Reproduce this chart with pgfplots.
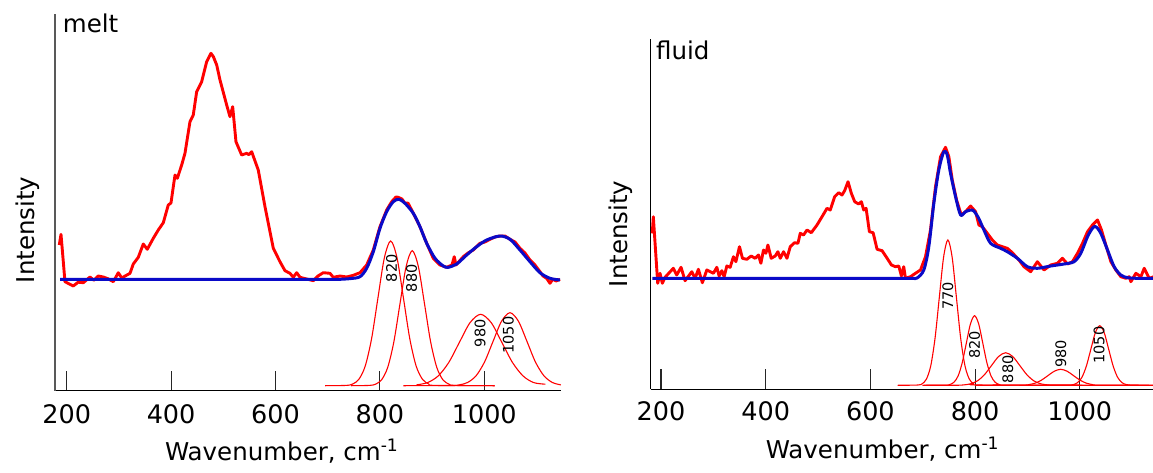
\documentclass[border=0pt]{standalone}
\usepackage{fontspec}
\setmainfont{DejaVu Sans}
\usepackage{pgfplots}
\pgfplotsset{compat=1.18}
\definecolor{fitblue}{RGB}{10,10,200}
\definecolor{specred}{RGB}{255,0,0}
\tikzset{glab/.style={rotate=90, font=\fontsize{14.5}{15}\selectfont, inner sep=0pt}}
\pgfplotsset{spec/.style={
  scale only axis, width=506pt, ymin=0, xmax=1147,
  axis x line*=bottom, axis y line*=left,
  axis line style={line width=1pt, black, -},
  xtick={200,400,600,800,1000},
  xticklabels={200,400,600,800,1000},
  ytick=\empty,
  tick align=inside, major tick length=20pt,
  tick style={black!85, line width=1.1pt},
  /pgf/number format/assume math mode=true,
  xticklabel style={font=\fontsize{25.5}{27}\selectfont, anchor=north, inner sep=0pt, yshift=-14pt},
  label style={font=\fontsize{24.5}{27}\selectfont},
  clip=false,
  ylabel={Intensity},
  xlabel={Wavenumber, cm\textsuperscript{-1}},
},
redline/.style={color=specred, line width=2.9pt, line join=round, no markers},
fitline/.style={color=fitblue, line width=3pt, line join=round, no markers, smooth},
gauss/.style={color=specred, line width=1.1pt, no markers, smooth},
}
\begin{document}
\begin{tikzpicture}
\useasboundingbox (0,0) rectangle (1153pt,472pt);
% ---------------- melt ----------------
\begin{axis}[spec, at={(55pt,81.3pt)}, anchor=south west,
  height=376.7pt, ymax=376.7, xmin=177.6,
  y axis line style={line width=2pt, black!65},
  ylabel style={at={(axis description cs:0,0.427)}, anchor=base, yshift=21pt},
  xlabel style={at={(axis description cs:0.448,0)}, anchor=base, yshift=-70pt},
]
\addplot[redline] coordinates {(185.8,145.7)(189.1,156.4)(196.7,109)(212.6,104.7)(222,108.5)(231.8,108)(244.6,113.7)(252,110.5)(260.5,114.7)(270.1,113.7)(279,112)(289.3,109)(298.9,118)(305.4,112.7)(313,115)(321.3,117.4)(327.6,126.7)(337.2,133.4)(346.7,146.7)(354.4,141.4)(365.9,152.4)(375.5,160.7)(385.1,168)(394.6,185.7)(399.8,187.7)(407.5,215.7)(411.9,212.4)(420.3,225.7)(426.6,237.4)(436.2,269)(442.5,275.7)(449,299)(458.6,309)(468.2,329)(476.4,337.4)(481,334)(487.4,325.7)(493.7,310.7)(506.5,285.7)(512.8,274)(518,284)(524.3,249)(535.2,235.7)(544.8,237.4)(549,236)(554.4,239)(567,220.7)(579.9,184)(595.8,142.4)(608.6,129)(618.2,120)(627.8,117.4)(634.1,113.4)(640.6,118)(647,113.4)(659.8,111.7)(672.4,110)(681.4,114.7)(691.6,118)(704.4,117.4)(710.7,113.4)(723.6,114.7)(736.4,113.7)(749,115.4)(761.9,118)(774.7,125.7)(787.4,140.7)(800.2,164)(813,180.7)(822.6,189)(830.8,193.7)(835.2,193.4)(842.3,191.7)(848.1,187.4)(853.8,187.7)(860.9,180.7)(876.8,164)(889.7,147.4)(902.3,132.4)(915.1,125.7)(928,123.4)(938.1,125.7)(942.5,134)(945.8,125.7)(959.8,134)(968.8,137.7)(978.9,140.7)(991.8,147.4)(1001.3,148.7)(1010.9,151.4)(1020.5,153.7)(1030.1,154.7)(1039.7,154.7)(1049.3,151.4)(1058.9,148.7)(1068.4,142.4)(1078,137.7)(1087.6,130.7)(1097.1,125.7)(1106.7,119)(1112.5,114.7)(1119.5,112.4)(1125.9,107.4)(1131.6,111.7)(1137.4,109.7)(1145,111.4)};
\addplot[fitline] coordinates {(187.2,111.4)(500,111.4)(700,111.4)(723.6,111.4)(745,112.2)(761.9,114)(774.7,122.4)(787.4,139)(800.2,162.4)(813,179)(825.7,189)(836.6,191.4)(848.1,187.4)(864,177.4)(876.8,164)(889.7,147.4)(905.6,132.4)(921.5,124.7)(931,123.4)(947.1,126.7)(966.3,135.7)(985.4,144)(1004.6,150.7)(1030.1,154.7)(1049.3,151.4)(1068.4,140.7)(1087.6,129)(1106.7,118)(1125.9,112.4)(1145,110.7)};
\addplot[gauss] coordinates {(695,5)(735.3,5.3)(747.5,6.6)(759.7,11.35)(771.9,24.6)(784.1,52)(796.3,92.8)(808.5,132.7)(820.7,149.7)(832.9,132.7)(845.1,92.8)(857.3,52)(869.5,24.6)(881.7,11.35)(893.9,6.6)(906.1,5.3)(1020,5)};
\addplot[gauss] coordinates {(745,5)(779.75,5.3)(791.5,6.5)(803.25,10.9)(815,23.3)(826.75,48.8)(838.5,86.9)(850.25,124.1)(862,140)(873.75,124.1)(885.5,86.9)(897.25,48.8)(909,23.3)(920.75,10.9)(932.5,6.5)(944.25,5.3)(1020,5)};
\addplot[gauss] coordinates {(870,5.8)(891.25,8.1)(911.6,14.7)(931.95,28.2)(952.3,48.3)(972.65,68)(993,76.4)(1013.35,68)(1033.7,48.3)(1054.05,28.2)(1074.4,14.7)(1094.75,8.1)(1117,6.5)};
\addplot[gauss] coordinates {(845,5)(935.5,5.16)(951.8,5.8)(968,8.2)(984.3,14.9)(1000.5,28.7)(1016.8,49.3)(1033,69.4)(1049.3,78)(1065.5,69.4)(1081.8,49.3)(1098,28.7)(1114.3,14.9)(1130.5,8.2)(1146.8,5.8)};
\node[glab] at (axis cs:822.6,122.4) {820};
\node[glab] at (axis cs:861,112.4) {880};
\node[glab] at (axis cs:991.8,57.4) {980};
\node[glab] at (axis cs:1046,55.7) {1050};
\node[anchor=north west, inner sep=0pt, font=\fontsize{24.5}{27}\selectfont, xshift=7.7pt] at (rel axis cs:0,1) {melt};
\end{axis}
% ---------------- fluid ----------------
\begin{axis}[spec, at={(650.7pt,82.7pt)}, anchor=south west,
  height=350pt, ymax=350, xmin=180.3,
  y axis line style={line width=1.2pt, black},
  ylabel style={at={(axis description cs:0,0.444)}, anchor=base, yshift=23pt},
  xlabel style={at={(axis description cs:0.458,0)}, anchor=base, yshift=-69pt},
  xticklabel style={yshift=1.8pt},
]
\addplot[redline] coordinates {(183.3,156)(185.3,172.6)(193.7,106)(198.1,116)(202.5,106)(207.7,112)(223.5,121)(230,114.3)(238.3,122)(245.9,108.6)(258.8,117.6)(265.1,111)(271.4,120)(279,106.6)(287.5,119.3)(300.1,116)(306.6,122)(311,113.3)(316.2,118.6)(320.6,112.6)(325.7,123.3)(332.1,122)(338.4,132.6)(343,127.6)(349.9,142.6)(355.6,131)(364,130)(372.2,133.3)(379.9,131)(386.2,134.3)(390.8,126)(395.8,139.3)(400.4,136)(404.2,144.3)(410.5,131)(418.2,133.3)(423.3,137.6)(427.8,131)(434.1,137.6)(440.6,131)(446.9,142.6)(455.1,146.6)(461.6,146)(466,156)(472.3,154.3)(478.9,159.3)(487.1,156.6)(498,164.3)(507.6,172.6)(517.1,181)(523.4,179.3)(531.7,192.6)(539.3,196.6)(545.8,194.3)(550.8,198.6)(557.3,207.6)(563.6,196)(570,187.6)(577.6,185.3)(582.8,187.6)(587.2,179.3)(591.8,181)(598.1,157.6)(605.2,156.6)(612.8,140)(622.4,138.6)(632,131)(640.2,124.3)(647.8,122.6)(654.2,123.3)(659.3,113.3)(663.7,122.6)(667,111)(676.6,112.6)(686.1,116)(695.7,119.3)(705.3,132.6)(714.8,159.3)(724.4,202.6)(734,232.6)(743.5,242)(749.9,232.6)(756.4,209.3)(764.6,189.3)(773.6,174.3)(781.8,177.6)(791.4,183.3)(801,177.6)(807.3,164.3)(813.8,162.6)(823.4,156)(832.9,149.3)(842.5,144.3)(852.1,142.6)(861.6,141)(871.2,136.6)(883.8,129.3)(893.4,122.6)(906.2,117.6)(919,127.6)(931.7,119.3)(944.5,124.3)(957.3,126)(966.9,131)(976.5,125.3)(986,127.6)(995.6,136)(1005.2,146)(1014.8,157.6)(1024.3,164.3)(1033.9,169.3)(1041.5,159.3)(1049.8,144.3)(1059.4,127.6)(1068.9,119.3)(1078.5,112.6)(1088.1,111)(1094.4,112.6)(1097.6,107.6)(1107.2,116)(1116.8,112.6)(1123.1,121)(1132.7,111)(1141.7,112.6)(1149.3,111.3)};
\addplot[fitline] coordinates {(183.3,111)(450,111)(650,111)(680,111)(689.3,111.3)(702,119.3)(711.6,142.6)(721.2,186)(730.7,219.3)(740.3,237.6)(746.8,234.3)(753.1,216)(762.7,192.6)(772.3,174.3)(781.8,177.6)(794.7,179.3)(805.4,172.6)(816.9,159.3)(829.7,146)(848.8,141)(861.6,137.6)(880.8,131)(899.9,122.6)(919,121)(944.5,123.3)(970,125.3)(989.1,127.6)(1001.9,136)(1014.8,152.6)(1024.3,161)(1030.6,162.6)(1040.2,156)(1053,139.3)(1065.7,122.6)(1078.5,114.3)(1091.3,111.6)(1110,111)(1149.3,111)};
\addplot[gauss] coordinates {(652,4)(690.95,4.3)(699.1,5.6)(707.25,10.4)(715.4,23.7)(723.55,51.2)(731.7,92.1)(739.85,132.2)(748,149.3)(756.15,132.2)(764.3,92.1)(772.45,51.2)(780.6,23.7)(788.75,10.4)(796.9,5.6)(805.05,4.3)(1005,4)};
\addplot[gauss] coordinates {(700,4)(744.05,4.15)(751.9,4.8)(759.75,7.1)(767.6,13.4)(775.45,26.6)(783.3,46.2)(791.15,65.4)(799,73.6)(806.85,65.4)(814.7,46.2)(822.55,26.6)(830.4,13.4)(838.25,7.1)(846.1,4.8)(853.95,4.15)(1150,4)};
\addplot[gauss] coordinates {(700,4)(763.9,4.07)(777.4,4.36)(790.9,5.43)(804.4,8.41)(817.9,14.6)(831.4,23.8)(844.9,32.8)(858.4,36.6)(871.9,32.8)(885.4,23.8)(898.9,14.6)(912.4,8.41)(925.9,5.43)(939.4,4.36)(952.9,4.07)(1005,4)};
\addplot[gauss] coordinates {(800,4)(890.4,4.18)(902.6,4.7)(914.8,6.16)(927,9.2)(939.2,13.7)(951.4,18.1)(963.6,20)(975.8,18.1)(988,13.7)(1000.2,9.2)(1012.4,6.16)(1024.6,4.7)(1036.8,4.18)(1150,4)};
\addplot[gauss] coordinates {(930,4)(978.7,4.13)(987.2,4.66)(995.7,6.62)(1004.2,12.06)(1012.7,23.4)(1021.2,40.1)(1029.7,56.6)(1038.2,63.6)(1046.7,56.6)(1055.2,40.1)(1063.7,23.4)(1072.2,12.06)(1080.7,6.62)(1089.2,4.66)(1097.7,4.13)(1113,4)};
\node[glab] at (axis cs:748,93.6) {770};
\node[glab] at (axis cs:799,44.3) {820};
\node[glab] at (axis cs:862.8,20) {880};
\node[glab] at (axis cs:963.6,35.3) {980};
\node[glab] at (axis cs:1037,44.3) {1050};
\node[anchor=north west, inner sep=0pt, font=\fontsize{24.5}{27}\selectfont, xshift=5.3pt, yshift=-1.4pt] at (rel axis cs:0,1) {fluid};
\end{axis}
\end{tikzpicture}
\end{document}
